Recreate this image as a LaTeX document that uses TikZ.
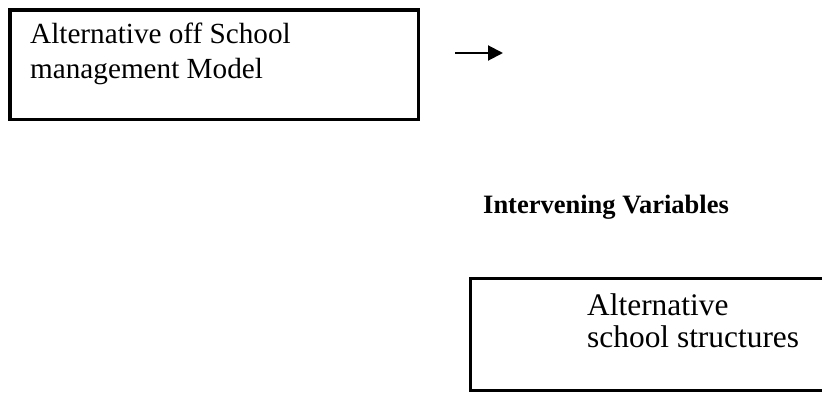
\documentclass[tikz,border=0pt]{standalone}
\usepackage{fontspec}
\setmainfont{Liberation Serif}
\usetikzlibrary{arrows.meta}
\tikzset{
  boxline/.style={draw=black, line width=3.4pt},
  txtA/.style={inner sep=0pt, anchor=base west, font=\fontsize{29.2}{34}\selectfont},
  txtB/.style={inner sep=0pt, anchor=base west, font=\fontsize{31.4}{36}\selectfont},
  txtH/.style={inner sep=0pt, anchor=base west, font=\fontsize{26.5}{31}\selectfont\bfseries},
  flow/.style={line width=2pt, -{Triangle[length=15pt,width=15pt]}}
}
\begin{document}
\begin{tikzpicture}[x=1pt,y=-1pt]
\clip (0,0) rectangle (822,394);
\useasboundingbox (0,0) rectangle (822,394);
% box 1
\draw[boxline] (10,10) rectangle (418.7,119.5);
\node[txtA] (t1a) at (30,43) {Alternative off School};
\node[txtA] (t1b) at (30,78) {management Model};
% arrow
\coordinate (as) at (455,53);
\coordinate (ae) at (503,53);
\draw[flow] (as) -- (ae);
% heading
\node[txtH] (hd) at (483,213) {Intervening Variables};
% box 2 (extends past right edge)
\draw[boxline] (470.3,278.7) rectangle (830,390.5);
\node[txtB] (t2a) at (587,315) {Alternative};
\node[txtB] (t2b) at (587,347) {school structures};
\end{tikzpicture}
\end{document}
